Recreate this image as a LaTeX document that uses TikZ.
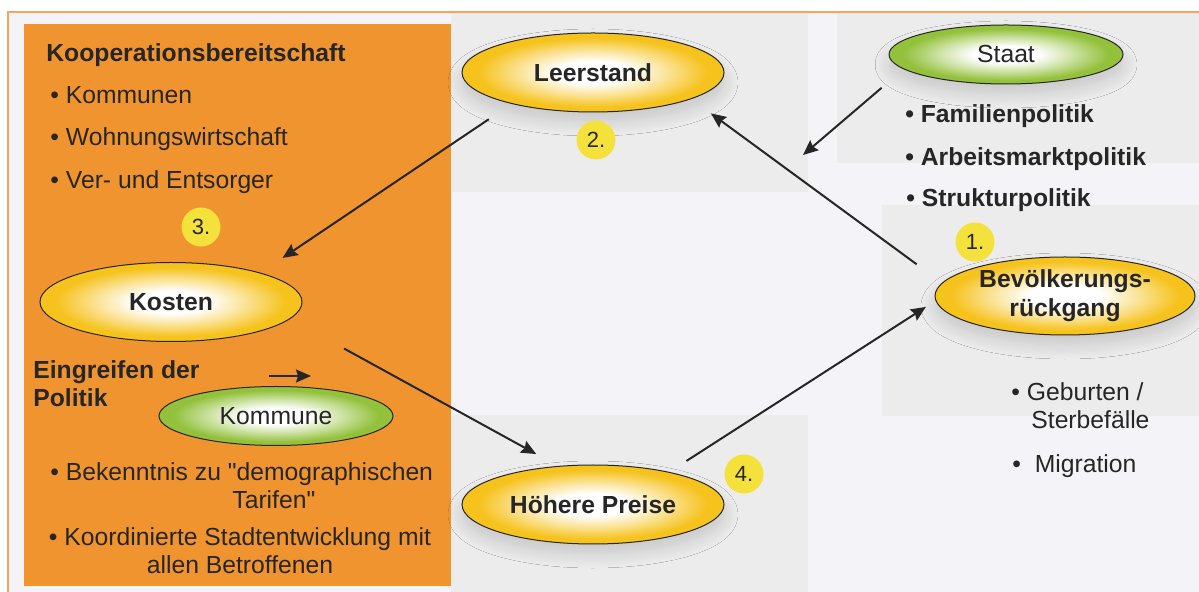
\documentclass[tikz,border=0pt]{standalone}
\usepackage{fontspec}
\setmainfont{Liberation Sans}[Ligatures=TeXOff]
\usepackage{xcolor}
\usetikzlibrary{arrows.meta,shapes.geometric,shadows.blur}

\definecolor{txt}{HTML}{262626}
\definecolor{orangepanel}{HTML}{F0942F}
\definecolor{framecol}{HTML}{F2A460}
\definecolor{bgcol}{HTML}{F4F3F7}
\definecolor{panelcol}{HTML}{ECECED}
\definecolor{eggyellow}{HTML}{F6C21C}
\definecolor{leafgreen}{HTML}{93C13B}
\definecolor{dotyellow}{HTML}{F5E13C}

\pgfdeclareradialshading{eggshade}{\pgfpoint{0bp}{0bp}}{color(0bp)=(white); color(7bp)=(white); color(14bp)=(eggyellow!45!white); color(22bp)=(eggyellow); color(50bp)=(eggyellow)}
\pgfdeclareradialshading{leafshade}{\pgfpoint{0bp}{0bp}}{color(0bp)=(white); color(7bp)=(white); color(14bp)=(leafgreen!45!white); color(22bp)=(leafgreen); color(50bp)=(leafgreen)}

\tikzset{
  eggnode/.style={ellipse, draw=txt, line width=0.5pt, shading=eggshade,
    inner sep=0pt, outer sep=0pt, minimum width=131pt, minimum height=39.5pt,
    text=txt, align=center, font=\bfseries\fontsize{12.35}{14.5}\selectfont},
  leafnode/.style={ellipse, draw=txt, line width=0.5pt, shading=leafshade,
    inner sep=0pt, outer sep=0pt, minimum width=117pt, minimum height=29.5pt,
    text=txt, font=\fontsize{12.35}{14.5}\selectfont},
  numdot/.style={circle, fill=dotyellow, inner sep=0pt, minimum size=19.5pt,
    text=txt, font=\fontsize{11}{13}\selectfont},
  txtnode/.style={anchor=base west, inner sep=0pt, text=txt,
    font=\fontsize{12.35}{14}\selectfont},
  arr/.style={-{Stealth[length=7.5pt,width=6.5pt,inset=1pt]}, line width=1pt, draw=txt},
  soft/.style={blur shadow={shadow xshift=0pt, shadow yshift=-5pt,
    shadow blur radius=7pt, shadow blur steps=16, shadow opacity=16}}
}

\begin{document}
\begin{tikzpicture}[x=0.5pt,y=-0.5pt]
  \useasboundingbox (0,0) rectangle (1199,592);
  \clip (0,0) rectangle (1199,592);
  \fill[white] (0,0) rectangle (1199,592);
  % frame, grey panels, orange panel
  \draw[framecol, line width=1pt, fill=bgcol] (8,12) rectangle (1230,620);
  \fill[panelcol] (451,13) rectangle (808,192);
  \fill[panelcol] (837,13) rectangle (1199,163);
  \fill[panelcol] (882,205) rectangle (1199,416);
  \fill[panelcol] (451,415) rectangle (808,592);
  \fill[orangepanel] (24,24) rectangle (451,586);

  % ellipses
  \node[eggnode,soft] (leer) at (593,72.5) {Leerstand};
  \node[leafnode,soft] (staat) at (1006,54.5) {Staat};
  \node[eggnode,soft,minimum width=130pt,minimum height=39pt] (bev) at (1065,296) {Bev\"olkerungs-\\r\"uckgang};
  \node[eggnode] (kosten) at (171,302) {Kosten};
  \node[leafnode] (kommune) at (276,416) {Kommune};
  \node[eggnode,soft] (preise) at (593,504.5) {H\"ohere Preise};

  % step numbers
  \node[numdot] (n1) at (975,242) {1.};
  \node[numdot] (n2) at (596,140) {2.};
  \node[numdot] (n3) at (201,227) {3.};
  \node[numdot] (n4) at (744,474) {4.};

  % left panel texts
  \node[txtnode,font=\bfseries\fontsize{12.35}{14}\selectfont] (koop) at (46,62) {Kooperationsbereitschaft};
  \node[txtnode] (komm) at (50,104) {• Kommunen};
  \node[txtnode] (wohn) at (50,146) {• Wohnungswirtschaft};
  \node[txtnode] (ver) at (50,189) {• Ver- und Entsorger};
  \node[txtnode,align=left,font=\bfseries\fontsize{12.35}{14}\selectfont] (eingr) at (33,407) {Eingreifen der\\Politik};
  \node[txtnode,align=left] (bek) at (50,509) {• Bekenntnis zu "demographischen\\\hspace*{91pt}Tarifen"};
  \node[txtnode,anchor=base,align=center] (koord) at (240,574) {• Koordinierte Stadtentwicklung mit\\allen Betroffenen};

  % right side texts
  \node[txtnode,font=\bfseries\fontsize{12.35}{14}\selectfont] (fam) at (905,123) {• Familienpolitik};
  \node[txtnode,font=\bfseries\fontsize{12.35}{14}\selectfont] (arb) at (905,166) {• Arbeitsmarktpolitik};
  \node[txtnode,font=\bfseries\fontsize{12.35}{14}\selectfont] (str) at (906,207) {• Strukturpolitik};
  \node[txtnode,align=left] (geb) at (1011,429) {• Geburten /\\\hspace*{10pt}Sterbef\"alle};
  \node[txtnode] (mig) at (1012,473) {• \ Migration};

  % connectors
  \draw[arr, shorten <=14pt, shorten >=13.5pt] (leer.201) -- (kosten.18);
  \draw[arr, shorten <=31pt, shorten >=12.8pt] (kosten.352) -- (preise.132);
  \draw[arr, shorten <=10.5pt, shorten >=5.9pt] (preise.23) -- (bev.182);
  \draw[arr, shorten <=15.9pt, shorten >=12.4pt] (bev.174) -- (leer.345);
  \coordinate (pol) at (803,155);
  \draw[arr, shorten <=14.6pt] (staat.188) -- (pol);
  \coordinate (pa) at (269,376);
  \draw[arr] (pa) -- ++(42,0);
\end{tikzpicture}
\end{document}
